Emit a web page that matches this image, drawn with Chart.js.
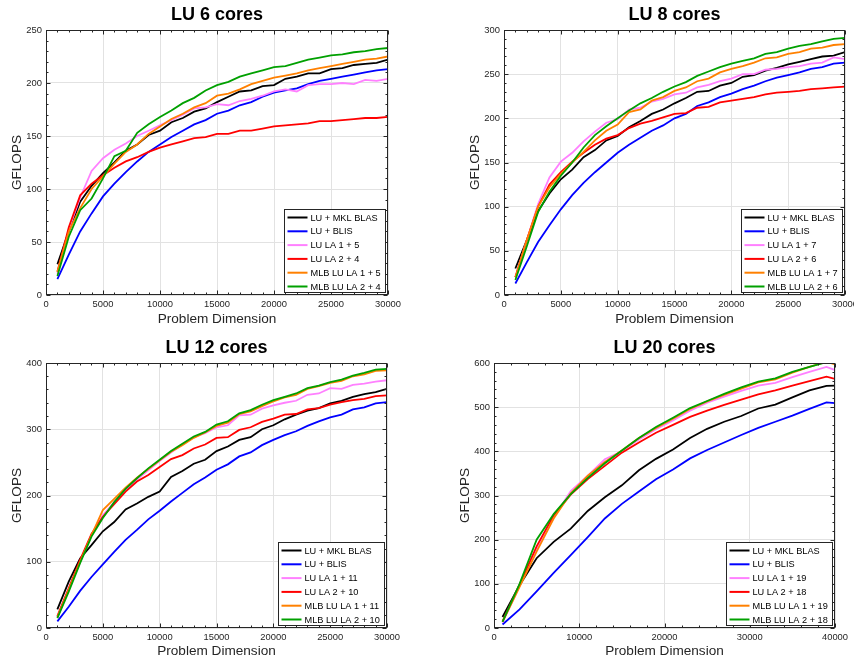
<!DOCTYPE html>
<html><head><meta charset="utf-8">
<script src="https://cdn.jsdelivr.net/npm/chart.js@4/dist/chart.umd.min.js"></script>
<style>
html,body{margin:0;padding:0;background:#fff;}
#wrap{position:relative;width:854px;height:664px;overflow:hidden;background:#fff;}
canvas{position:absolute;}
</style></head><body>
<div id="wrap">
<canvas id="c1" width="427" height="332" style="left:0;top:0"></canvas>
<canvas id="c2" width="427" height="332" style="left:427px;top:0"></canvas>
<canvas id="c3" width="427" height="332" style="left:0;top:332px"></canvas>
<canvas id="c4" width="427" height="332" style="left:427px;top:332px"></canvas>
</div>
<script>
// ---------- DATA ----------
const dims30 = [1000,2000,3000,4000,5000,6000,7000,8000,9000,10000,11000,12000,13000,14000,15000,16000,17000,18000,19000,20000,21000,22000,23000,24000,25000,26000,27000,28000,29000,30000];
const dims40 = [1000,3000,5000,7000,9000,11000,13000,15000,17000,19000,21000,23000,25000,27000,29000,31000,33000,35000,37000,39000,40000];

const titles = ["LU 6 cores", "LU 8 cores", "LU 12 cores", "LU 20 cores"];
const labels6  = ["LU + MKL BLAS","LU + BLIS","LU LA 1 + 5","LU LA 2 + 4","MLB LU LA 1 + 5","MLB LU LA 2 + 4"];
const labels8  = ["LU + MKL BLAS","LU + BLIS","LU LA 1 + 7","LU LA 2 + 6","MLB LU LA 1 + 7","MLB LU LA 2 + 6"];
const labels12 = ["LU + MKL BLAS","LU + BLIS","LU LA 1 + 11","LU LA 2 + 10","MLB LU LA 1 + 11","MLB LU LA 2 + 10"];
const labels20 = ["LU + MKL BLAS","LU + BLIS","LU LA 1 + 19","LU LA 2 + 18","MLB LU LA 1 + 19","MLB LU LA 2 + 18"];

// 6 cores
const mkl6  = [29,60,88,103,115,125,136,142,151,155,163,167,173,176,182,187,192,193,197,198,204,206,209,209,213,214,217,218,219,222];
const blis6 = [15,38,60,77,93,105,116,126,135,142,149,155,161,165,171,174,179,182,187,191,193,195,199,202,204,206,208,210,212,213];
const la1_6 = [20,62,92,117,129,137,143,150,155,160,165,170,176,177,180,179,183,185,188,192,194,192,198,199,199,200,199,203,202,204];
const la2_6 = [22,64,94,105,113,120,126,130,135,139,142,145,148,149,152,152,155,155,157,159,160,161,162,164,164,165,166,167,167,168];
const mlb1_6 = [22,60,82,100,112,124,135,142,152,159,166,171,177,181,188,190,194,199,202,205,207,209,212,214,216,218,220,222,223,225];
const mlb2_6 = [18,55,80,91,110,131,136,153,161,168,174,181,186,193,198,201,206,209,212,215,216,219,222,224,226,227,229,230,232,233];

// 8 cores
const mkl8  = [30,62,95,115,131,142,156,164,175,180,190,197,205,210,217,223,230,231,237,240,247,249,254,257,261,264,267,270,271,275];
const blis8 = [13,37,60,79,97,113,127,139,150,161,170,178,186,192,200,205,214,218,224,228,233,237,242,246,249,252,256,258,262,263];
const la1_8 = [20,62,103,133,151,161,174,185,195,199,210,212,219,222,227,229,235,238,242,245,250,250,255,256,258,259,262,263,269,267];
const la2_8 = [20,62,100,125,139,151,161,170,177,181,189,194,197,201,205,206,212,213,218,220,222,224,227,229,230,231,233,234,235,236];
const mlb1_8 = [20,62,100,122,137,150,162,175,186,193,207,210,220,224,231,235,242,245,252,256,259,263,268,269,273,275,279,280,283,284];
const mlb2_8 = [17,55,94,117,135,150,167,181,191,200,209,217,223,230,236,241,248,253,258,262,265,268,273,275,279,282,284,287,290,291];

// 12 cores
const mkl12  = [28,70,105,125,146,160,179,188,198,206,228,237,248,254,267,274,284,288,300,306,315,322,328,332,339,343,349,353,356,361];
const blis12 = [10,32,56,77,96,115,133,148,164,177,191,204,217,227,239,247,259,265,276,284,291,297,305,312,318,322,330,333,339,341];
const la1_12 = [17,60,100,140,170,190,208,224,238,252,265,277,288,294,303,306,321,322,331,336,340,343,352,354,362,361,367,369,372,374];
const la2_12 = [18,60,103,142,168,187,206,221,231,243,255,261,271,277,287,288,299,303,311,316,322,323,330,332,337,341,344,346,350,351];
const mlb1_12 = [16,58,100,140,178,195,212,227,240,253,266,276,287,295,305,310,323,327,335,342,348,352,361,365,370,373,380,383,388,389];
const mlb2_12 = [15,55,98,138,166,190,210,226,241,254,267,278,289,296,307,312,324,329,337,344,349,354,362,366,371,375,381,385,390,391];

// 20 cores
const mkl20  = [25,97,158,195,225,265,296,323,357,383,404,430,451,467,480,497,506,522,538,548,549];
const blis20 = [8,42,83,125,165,206,248,281,309,337,359,384,403,420,437,453,467,481,496,511,509];
const la1_20 = [12,95,178,250,310,345,382,400,427,450,470,492,510,524,537,549,555,568,580,591,584];
const la2_20 = [15,98,185,255,302,337,367,397,420,442,460,478,492,505,517,529,538,549,559,569,564];
const mlb1_20 = [14,93,173,248,305,345,376,402,430,453,474,496,513,528,542,556,563,578,591,603,597];
const mlb2_20 = [14,100,200,258,303,340,373,402,430,455,476,498,514,530,545,558,565,580,591,602,600];

// ---------- STYLE ----------
const FONT = '"Liberation Sans", Arial, Helvetica, sans-serif';
const AXIS = '#262626';
const seriesColors = ['#000000','#0000ff','#ff80ff','#ff0000','#ff8000','#00a000'];

Chart.defaults.font.family = FONT;
Chart.defaults.color = AXIS;

const matlabPlugin = {
  id: 'matlab',
  afterDatasetsDraw(chart, args, opts) {
    const ctx = chart.ctx, a = chart.chartArea;
    const xs = chart.scales.x, ys = chart.scales.y;
    ctx.save();
    const l = Math.round(a.left) + 0.5, r = Math.round(a.right) - 0.5;
    const t = Math.round(a.top) + 0.5, b = Math.round(a.bottom) - 0.5;
    ctx.strokeStyle = AXIS; ctx.lineWidth = 1;
    ctx.beginPath();
    const nx = Math.round(xs.max / opts.xStep) * 5;
    for (let i = 0; i <= nx; i++) {
      const v = i * opts.xStep / 5;
      const len = (i % 5 === 0) ? 4 : 2;
      const px = Math.round(xs.getPixelForValue(v)) + 0.5;
      ctx.moveTo(px, b); ctx.lineTo(px, b - len);
      ctx.moveTo(px, t); ctx.lineTo(px, t + len);
    }
    const ny = Math.round(ys.max / opts.yStep) * 5;
    for (let i = 0; i <= ny; i++) {
      const v = i * opts.yStep / 5;
      const len = (i % 5 === 0) ? 4 : 2;
      const py = Math.round(ys.getPixelForValue(v)) + 0.5;
      ctx.moveTo(l, py); ctx.lineTo(l + len, py);
      ctx.moveTo(r, py); ctx.lineTo(r - len, py);
    }
    ctx.stroke();
    ctx.strokeRect(l, t, r - l, b - t);

    // legend
    const ds = chart.data.datasets;
    ctx.font = '9.2px ' + FONT;
    let maxW = 0;
    ds.forEach(d => { maxW = Math.max(maxW, ctx.measureText(d.label).width); });
    const w = Math.round(3 + 20 + 3 + maxW + 5);
    const h = 83;
    const bx = Math.round(a.right - 3.5 - w) + 0.5;
    const by = Math.round(a.bottom - 3.5 - h) + 0.5;
    ctx.fillStyle = '#fff';
    ctx.fillRect(bx, by, w, h);
    ctx.strokeStyle = AXIS; ctx.lineWidth = 1;
    ctx.strokeRect(bx, by, w, h);
    ctx.textAlign = 'left'; ctx.textBaseline = 'middle';
    ds.forEach((d, i) => {
      const cy = by + 8 + i * 13.8;
      ctx.strokeStyle = d.borderColor; ctx.lineWidth = 2;
      ctx.beginPath(); ctx.moveTo(bx + 3, cy); ctx.lineTo(bx + 23, cy); ctx.stroke();
      ctx.fillStyle = '#000';
      ctx.fillText(d.label, bx + 26, cy + 0.5);
    });
    ctx.restore();
  }
};

function makePanel(id, p) {
  const datasets = p.series.map((vals, i) => ({
    label: p.labels[i],
    data: p.xs.map((x, j) => ({x: x, y: vals[j]})),
    borderColor: seriesColors[i],
    backgroundColor: seriesColors[i],
    borderWidth: 1.8,
    pointRadius: 0,
    fill: false,
    tension: 0,
    order: 5 - i
  }));
  return new Chart(document.getElementById(id), {
    type: 'line',
    data: { datasets },
    plugins: [matlabPlugin],
    options: {
      responsive: false,
      animation: false,
      devicePixelRatio: 1,
      layout: { padding: { left: p.L - 46, right: 427 - p.R, top: 0, bottom: 0 } },
      plugins: {
        legend: { display: false },
        tooltip: { enabled: false },
        title: {
          display: true, text: p.title, fullSize: false,
          color: '#000', font: { size: 18, weight: 'bold', lineHeight: 1 },
          padding: { top: p.T - 24, bottom: 6 }
        },
        matlab: { xStep: p.xStep, yStep: p.yStep }
      },
      scales: {
        x: {
          type: 'linear', position: 'bottom', min: 0, max: p.xMax,
          ticks: { stepSize: p.xStep, autoSkip: false, maxRotation: 0, padding: 4,
                   color: AXIS, font: { size: 9.4 }, callback: v => String(v) },
          grid: { color: '#e2e2e2', lineWidth: 1, drawTicks: false },
          border: { display: false },
          title: { display: true, text: 'Problem Dimension', color: AXIS,
                   font: { size: 13.6, lineHeight: 1.2 }, padding: { top: 0, bottom: 4.3 } },
          afterFit(s) { s.height = 332 - p.B; s.paddingLeft = 0; s.paddingRight = 0; }
        },
        y: {
          type: 'linear', position: 'left', min: 0, max: p.yMax,
          ticks: { stepSize: p.yStep, autoSkip: false, padding: 4,
                   color: AXIS, font: { size: 9.4 }, callback: v => String(v) },
          grid: { color: '#e2e2e2', lineWidth: 1, drawTicks: false },
          border: { display: false },
          title: { display: true, text: 'GFLOPS', color: AXIS,
                   font: { size: 13.6, lineHeight: 1.2 }, padding: { top: 8.6, bottom: 0 } },
          afterFit(s) { s.width = 46; s.paddingTop = 0; s.paddingBottom = 0; }
        }
      }
    }
  });
}

makePanel('c1', { title: titles[0], labels: labels6, xs: dims30,
  series: [mkl6, blis6, la1_6, la2_6, mlb1_6, mlb2_6],
  L: 46, R: 388, T: 30, B: 295, xMax: 30000, xStep: 5000, yMax: 250, yStep: 50 });
makePanel('c2', { title: titles[1], labels: labels8, xs: dims30,
  series: [mkl8, blis8, la1_8, la2_8, mlb1_8, mlb2_8],
  L: 77, R: 418, T: 30, B: 295, xMax: 30000, xStep: 5000, yMax: 300, yStep: 50 });
makePanel('c3', { title: titles[2], labels: labels12, xs: dims30,
  series: [mkl12, blis12, la1_12, la2_12, mlb1_12, mlb2_12],
  L: 46, R: 387, T: 31, B: 296, xMax: 30000, xStep: 5000, yMax: 400, yStep: 100 });
makePanel('c4', { title: titles[3], labels: labels20, xs: dims40,
  series: [mkl20, blis20, la1_20, la2_20, mlb1_20, mlb2_20],
  L: 67, R: 408, T: 31, B: 296, xMax: 40000, xStep: 10000, yMax: 600, yStep: 100 });
</script>
</body></html>
